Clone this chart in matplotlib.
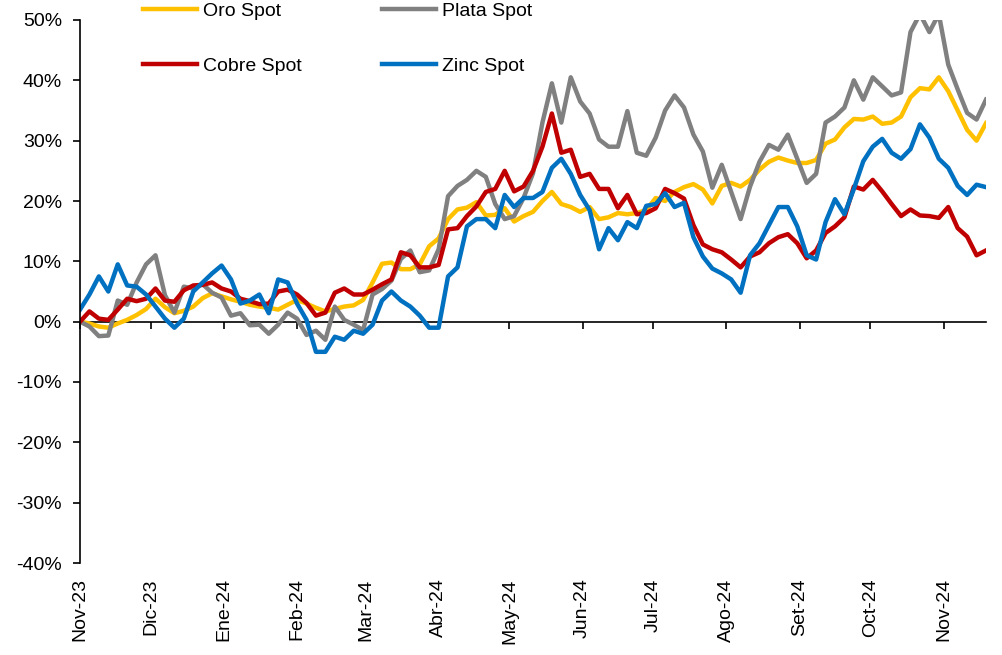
import matplotlib
matplotlib.use("Agg")
import matplotlib.pyplot as plt
from matplotlib.ticker import FuncFormatter
import pandas as pd

plt.rcParams['font.family'] = ['Liberation Sans', 'DejaVu Sans']

# one point every 4 days, 1 Nov 2023 -> 19 Nov 2024
dates = pd.date_range('2023-11-01', periods=97, freq='4D')

oro = [0.0, -0.3, -0.8, -1.0, -0.3, 0.3, 1.1, 2.1, 3.8, 2.4,
       1.4, 1.8, 2.5, 3.9, 4.7, 4.2, 3.7, 3.3, 2.8, 2.5,
       2.3, 2.0, 2.8, 3.6, 3.0, 2.3, 1.7, 2.1, 2.5, 2.7,
       3.6, 6.5, 9.6, 9.8, 8.7, 8.7, 9.5, 12.5, 13.8, 17.0,
       18.6, 18.9, 19.8, 17.6, 17.7, 18.8, 16.6, 17.5, 18.2, 20.0,
       21.5, 19.5, 19.0, 18.2, 19.0, 17.0, 17.3, 18.0, 17.8, 18.0,
       18.5, 20.5, 20.0, 21.5, 22.3, 22.8, 21.9, 19.6, 22.5, 23.0,
       22.4, 23.5, 25.2, 26.5, 27.2, 26.7, 26.3, 26.3, 26.8, 29.5,
       30.2, 32.2, 33.6, 33.5, 34.0, 32.8, 33.0, 34.0, 37.2, 38.7,
       38.5, 40.5, 38.2, 35.0, 31.8, 30.0, 32.9]

plata = [0.0, -0.8, -2.4, -2.3, 3.5, 2.8, 6.5, 9.5, 11.0, 4.4,
         1.5, 5.8, 5.5, 6.2, 4.8, 4.0, 1.0, 1.4, -0.6, -0.5,
         -2.0, -0.5, 1.5, 0.5, -2.2, -1.5, -3.0, 2.5, 0.3, -0.5,
         -1.4, 4.5, 5.4, 6.8, 10.4, 11.8, 8.2, 8.5, 12.0, 20.8,
         22.5, 23.5, 25.0, 24.0, 19.5, 17.0, 17.5, 20.5, 24.6, 33.0,
         39.5, 33.0, 40.5, 36.5, 34.5, 30.2, 29.0, 29.0, 34.9, 28.0,
         27.5, 30.5, 35.0, 37.5, 35.5, 31.0, 28.2, 22.2, 26.0, 21.5,
         17.0, 22.4, 26.5, 29.3, 28.5, 31.0, 27.0, 23.0, 24.5, 33.0,
         34.0, 35.5, 40.0, 36.8, 40.5, 39.0, 37.5, 38.0, 48.0, 51.0,
         48.0, 51.0, 42.6, 38.5, 34.6, 33.5, 36.8]

cobre = [0.0, 1.7, 0.5, 0.3, 2.0, 3.8, 3.4, 3.8, 5.5, 3.5,
         3.3, 5.2, 6.0, 6.1, 6.5, 5.5, 5.0, 3.8, 3.4, 2.9,
         3.0, 5.0, 5.3, 4.5, 3.1, 1.0, 1.5, 4.8, 5.5, 4.5,
         4.5, 5.3, 6.2, 7.0, 11.5, 11.0, 9.0, 9.0, 9.4, 15.3,
         15.5, 17.5, 19.1, 21.5, 22.0, 25.0, 21.6, 22.4, 25.0, 29.0,
         34.5, 28.0, 28.5, 24.0, 24.5, 22.0, 22.0, 18.8, 21.0, 17.8,
         18.0, 18.8, 22.0, 21.3, 20.4, 16.0, 12.8, 12.0, 11.5, 10.3,
         9.0, 10.8, 11.5, 13.0, 14.0, 14.5, 13.0, 10.5, 11.8, 14.7,
         15.8, 17.3, 22.4, 21.9, 23.5, 21.6, 19.5, 17.5, 18.6, 17.6,
         17.5, 17.2, 19.0, 15.5, 14.1, 11.0, 11.8]

zinc = [2.0, 4.5, 7.5, 5.0, 9.5, 6.0, 5.8, 4.5, 2.5, 0.5,
        -1.0, 0.5, 5.0, 6.5, 8.0, 9.3, 7.0, 3.0, 3.5, 4.5,
        1.4, 7.0, 6.5, 3.0, 0.3, -5.0, -5.0, -2.5, -3.0, -1.5,
        -2.0, -0.5, 3.5, 5.0, 3.5, 2.5, 1.0, -1.0, -1.0, 7.5,
        9.0, 15.8, 17.0, 17.0, 15.5, 21.0, 19.0, 20.5, 20.5, 21.5,
        25.5, 27.0, 24.5, 21.0, 18.5, 12.0, 15.5, 13.5, 16.5, 15.5,
        19.2, 19.5, 21.3, 19.0, 19.7, 14.0, 10.8, 8.8, 8.0, 7.0,
        4.8, 11.0, 13.0, 16.0, 19.0, 19.0, 15.8, 11.0, 10.3, 16.5,
        20.3, 17.8, 22.0, 26.6, 29.0, 30.3, 28.0, 27.0, 28.6, 32.7,
        30.5, 27.0, 25.5, 22.5, 21.0, 22.7, 22.3]

month_ticks = pd.date_range('2023-11-01', '2024-11-01', freq='MS')
month_labels = ["Nov-23", "Dic-23", "Ene-24", "Feb-24", "Mar-24", "Abr-24", "May-24",
                "Jun-24", "Jul-24", "Ago-24", "Set-24", "Oct-24", "Nov-24"]

fig = plt.figure(figsize=(10.03, 6.55), dpi=100)
ax = fig.add_axes([80/1003, 92/655, 906/1003, 543/655])

l_oro, = ax.plot(dates, oro, color="#FFC000", lw=3.2, label="Oro Spot")
l_plata, = ax.plot(dates, plata, color="#808080", lw=3.2, label="Plata Spot")
l_cobre, = ax.plot(dates, cobre, color="#C00000", lw=3.2, label="Cobre Spot")
l_zinc, = ax.plot(dates, zinc, color="#0070C0", lw=3.2, label="Zinc Spot")

ax.set_xlim(dates[0], dates[-1])
ax.set_ylim(-40, 50)
ax.set_yticks(range(-40, 51, 10))
ax.yaxis.set_major_formatter(FuncFormatter(lambda v, p: f"{v:.0f}%"))
ax.tick_params(axis='y', labelsize=14, length=5, width=1.2, pad=8, color='black')

for s in ['top', 'right', 'bottom']:
    ax.spines[s].set_visible(False)
ax.spines['left'].set_linewidth(1.2)

# labels stay at the bottom, tick marks sit on the zero line
ax.set_xticks(month_ticks)
ax.set_xticklabels(month_labels, rotation=90)
ax.tick_params(axis='x', labelsize=14, length=0, pad=11)

zero_ax = ax.secondary_xaxis(40/90)
zero_ax.set_xticks(month_ticks)
zero_ax.tick_params(axis='x', length=5, width=1.2, labelbottom=False, color='black')
zero_ax.spines['bottom'].set_linewidth(1.2)

fig.legend([l_oro, l_cobre, l_plata, l_zinc],
           ["Oro Spot", "Cobre Spot", "Plata Spot", "Zinc Spot"],
           ncol=2, loc='upper left', bbox_to_anchor=(143/1003, 1 - 2/655),
           frameon=False, fontsize=14, handlelength=2.8, handletextpad=0.3,
           labelspacing=1.95, columnspacing=4.1, borderpad=0, borderaxespad=0)

fig.savefig("out.png", dpi=100)
